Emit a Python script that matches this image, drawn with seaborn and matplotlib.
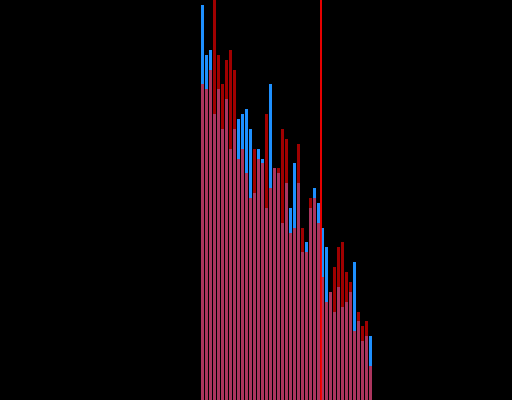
import numpy as np
import pandas as pd
import seaborn as sns
import matplotlib
matplotlib.use('Agg')
import matplotlib.pyplot as plt

# bin index and the two overlapping distributions (counts)
bins = list(range(43))
blue_counts = [395, 345, 350, 286, 311, 271, 301, 251, 271, 281,
               286, 291, 271, 207, 251, 241, 192, 316, 232, 227,
               177, 217, 192, 237, 217, 148, 158, 192, 212, 197,
               172, 153, 108, 88, 113, 93, 98, 108, 138, 79,
               59, 64, 64]
red_counts = [316, 311, 330, 410, 345, 316, 340, 350, 330, 241,
              251, 227, 202, 251, 241, 237, 286, 212, 232, 232,
              271, 261, 167, 172, 256, 172, 148, 202, 202, 177,
              123, 98, 108, 133, 153, 158, 128, 118, 69, 88,
              74, 79, 34]
threshold = 29.62

df = pd.DataFrame({'bin': bins, 'blue': blue_counts, 'red': red_counts})

fig = plt.figure(figsize=(5.12, 4.0), dpi=100, facecolor='black')
ax = fig.add_axes([0, 0, 1, 1])
ax.set_facecolor('black')

# opaque blue first, translucent red on top -> overlap turns mauve
sns.barplot(data=df, x='bin', y='blue', color='#1e90ff', saturation=1,
            width=0.75, linewidth=0, errorbar=None, ax=ax)
sns.barplot(data=df, x='bin', y='red', color='#ff0000', saturation=1,
            alpha=0.63, width=0.75, linewidth=0, errorbar=None, ax=ax)
ax.axvline(threshold, color='red', linewidth=1.3, zorder=5)

ax.set_xlim(-50.625, 77.375)
ax.set_ylim(0, 400)
ax.axis('off')

fig.savefig('out.png', dpi=100, facecolor='black')
